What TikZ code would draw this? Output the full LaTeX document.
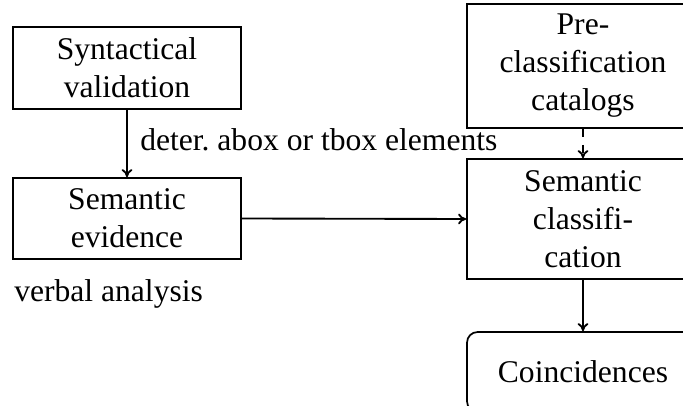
\documentclass[tikz,border=0pt]{standalone}
\usepackage{fontspec}
\setmainfont{Liberation Serif}
\usetikzlibrary{arrows.meta}
\begin{document}
\begin{tikzpicture}[x=0.75pt,y=-0.75pt,
  every node/.style={font=\fontsize{23.7}{28.5}\selectfont},
  box/.style={draw,line width=1.3pt,rectangle,inner sep=0pt,align=center},
  conn/.style={line width=1.4pt,-{To[length=6pt,width=8pt]}},
  lbl/.style={inner sep=0pt}]
\useasboundingbox (0,0) rectangle (683,406);
\node[box,minimum width=228*0.75pt,minimum height=82*0.75pt] (syn) at (127,68) {Syntactical\\validation};
\node[box,minimum width=228*0.75pt,minimum height=81*0.75pt] (sev) at (127,218.5) {Semantic\\evidence};
\node[box,minimum width=232*0.75pt,minimum height=124*0.75pt] (pre) at (583,66) {Pre-\\classification\\catalogs};
\node[box,minimum width=232*0.75pt,minimum height=120*0.75pt] (scl) at (583,219) {Semantic\\classifi-\\cation};
\node[box,rounded corners=8pt,minimum width=232*0.75pt,minimum height=80*0.75pt] (coi) at (583,372) {Coincidences};
\node[lbl,anchor=base west] (lab1) at (140,151) {deter.\ abox or tbox elements};
\node[lbl,anchor=base west] (lab2) at (14,302) {verbal analysis};
\draw[conn] (syn.south) -- (sev.north);
\draw[conn] (sev.east) -- (scl.west);
\draw[conn,dash pattern=on 6pt off 6pt] (pre.south) -- (scl.north);
\draw[conn] (scl.south) -- (coi.north);
\end{tikzpicture}
\end{document}
